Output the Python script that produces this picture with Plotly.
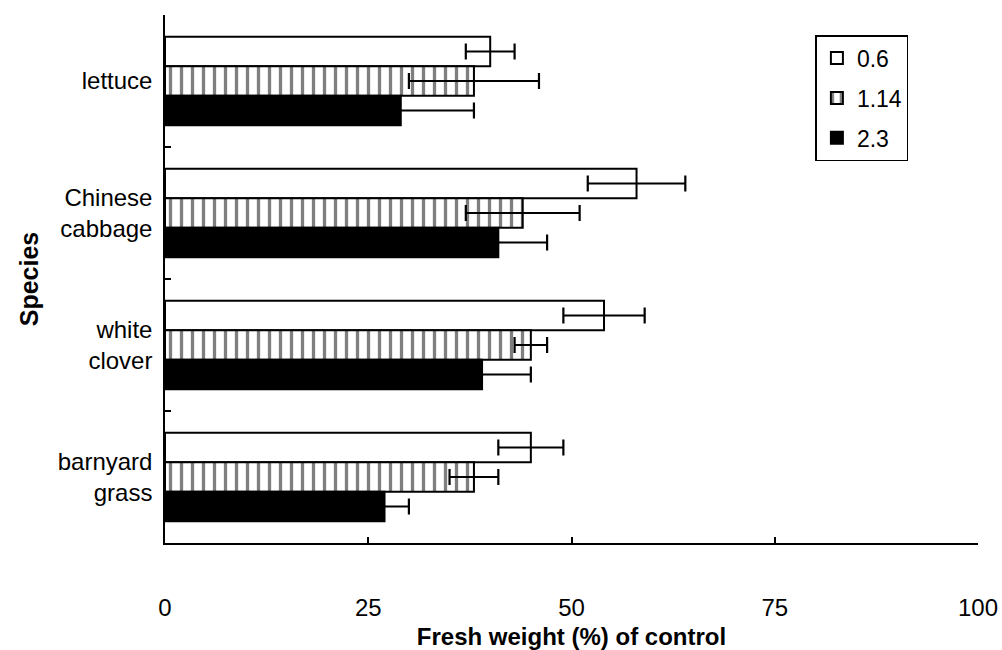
import plotly.graph_objects as go

species = ["lettuce", "Chinese<br>cabbage", "white<br>clover", "barnyard<br>grass"]
series_names = ["0.6", "1.14", "2.3"]
values_06 = [40, 58, 54, 45]
errors_06 = [3, 6, 5, 4]
values_114 = [38, 44, 45, 38]
errors_114 = [8, 7, 2, 3]
values_23 = [29, 41, 39, 27]
errors_23 = [9, 6, 6, 3]
x_ticks = [0, 25, 50, 75, 100]

FONT = "Liberation Sans, Arial, sans-serif"

fig = go.Figure()

def add(name, vals, errs, marker, group):
    fig.add_trace(go.Bar(
        name=name, y=species, x=vals, orientation="h",
        marker=marker,
        error_x=dict(type="data", array=errs, visible=True, color="black",
                     thickness=2.2, width=8),
        legendgroup=group,
    ))

add(series_names[0], values_06, errors_06,
    dict(color="white", line=dict(color="black", width=2)), "a")
add(series_names[1], values_114, errors_114,
    dict(color="white", line=dict(color="black", width=2),
         pattern=dict(shape="|", fgcolor="black", bgcolor="white",
                      size=11, solidity=0.3)), "b")
add(series_names[2], values_23, errors_23,
    dict(color="black", line=dict(color="black", width=2)), "c")

fig.update_layout(
    width=1002, height=650,
    margin=dict(l=165, r=24, t=15, b=107),
    paper_bgcolor="white", plot_bgcolor="white",
    barmode="group", bargap=0.33, bargroupgap=0,
    font=dict(family=FONT, size=24, color="black"),
    showlegend=True,
    legend=dict(x=0.8, y=0.962, xanchor="left", yanchor="top",
                bordercolor="black", borderwidth=1.5, bgcolor="white",
                font=dict(size=23), traceorder="grouped",
                tracegroupgap=7, itemwidth=30),
    xaxis=dict(range=[0, 100], tickvals=x_ticks, ticks="inside", ticklen=6,
               tickcolor="black", tickwidth=1.5,
               showline=True, linecolor="black", linewidth=1.5,
               showgrid=False, zeroline=False, automargin=False,
               ticklabelstandoff=42,
               title=dict(text="<b>Fresh weight (%) of control</b>",
                          font=dict(size=24), standoff=15)),
    yaxis=dict(categoryorder="array", categoryarray=species,
               autorange="reversed", ticks="inside", ticklen=6,
               tickson="boundaries", tickcolor="black", tickwidth=1.5,
               showline=True, linecolor="black", linewidth=1.5,
               showgrid=False, zeroline=False, automargin=False,
               ticklabelstandoff=6,
               title=dict(text="<b>Species</b>", font=dict(size=25),
                          standoff=12)),
)

fig.write_html("out.html")
